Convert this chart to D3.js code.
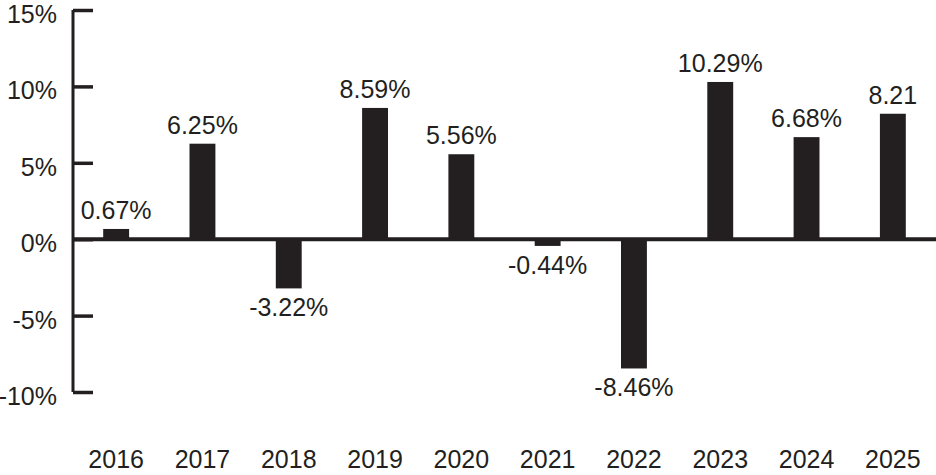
<!DOCTYPE html>
<html>
<head>
<meta charset="utf-8">
<script src="https://cdn.jsdelivr.net/npm/d3@7"></script>
<style>
  body { margin: 0; background: #fff; }
  text { font-family: "Liberation Sans", Arial, sans-serif; fill: #231f20; }
</style>
</head>
<body>
<div id="chart"></div>
<script>
// data
const years = ['2016', '2017', '2018', '2019', '2020', '2021', '2022', '2023', '2024', '2025'];
const returns = [0.67, 6.25, -3.22, 8.59, 5.56, -0.44, -8.46, 10.29, 6.68, 8.21];
const valueLabels = ['0.67%', '6.25%', '-3.22%', '8.59%', '5.56%', '-0.44%', '-8.46%', '10.29%', '6.68%', '8.21'];
const yTicks = [-10, -5, 0, 5, 10, 15];

const W = 936, H = 475;
const ink = '#231f20';

const svg = d3.select('#chart').append('svg')
  .attr('width', W)
  .attr('height', H);

// scales
const x = d3.scaleBand()
  .domain(years)
  .range([73, W])
  .paddingInner(0.7)
  .paddingOuter(0.35);

const y = d3.scaleLinear()
  .domain([-10, 15])
  .range([392, 10]);

// y axis: vertical line + short ticks pointing right
const yAxis = svg.append('g').attr('transform', 'translate(73,0)');
yAxis.call(d3.axisRight(y).tickValues(yTicks).tickSize(20).tickFormat(''));
yAxis.select('.domain')
  .attr('d', `M0,${y(15)}V${y(-10)}`)
  .attr('stroke', ink)
  .attr('stroke-width', 3);
yAxis.selectAll('.tick line')
  .attr('stroke', ink)
  .attr('stroke-width', 3.5);

// tick labels to the left of the axis
svg.append('g')
  .selectAll('text')
  .data(yTicks)
  .join('text')
  .attr('x', 57)
  .attr('y', d => y(d) + 13)
  .attr('text-anchor', 'end')
  .attr('font-size', 25)
  .text(d => d + '%');

// bars
svg.append('g')
  .selectAll('rect')
  .data(returns)
  .join('rect')
  .attr('x', (d, i) => x(years[i]))
  .attr('width', x.bandwidth())
  .attr('y', d => y(Math.max(0, d)))
  .attr('height', d => Math.abs(y(d) - y(0)))
  .attr('fill', ink);

// zero line across the plot
svg.append('line')
  .attr('x1', 72)
  .attr('x2', W)
  .attr('y1', y(0))
  .attr('y2', y(0))
  .attr('stroke', ink)
  .attr('stroke-width', 4);

// value labels above / below bars
svg.append('g')
  .selectAll('text')
  .data(returns)
  .join('text')
  .attr('x', (d, i) => x(years[i]) + x.bandwidth() / 2)
  .attr('y', d => d >= 0 ? y(d) - 10 : y(d) + 28)
  .attr('text-anchor', 'middle')
  .attr('font-size', 25)
  .text((d, i) => valueLabels[i]);

// year labels
svg.append('g')
  .selectAll('text')
  .data(years)
  .join('text')
  .attr('x', d => x(d) + x.bandwidth() / 2)
  .attr('y', 468)
  .attr('text-anchor', 'middle')
  .attr('font-size', 25)
  .text(d => d);
</script>
</body>
</html>
